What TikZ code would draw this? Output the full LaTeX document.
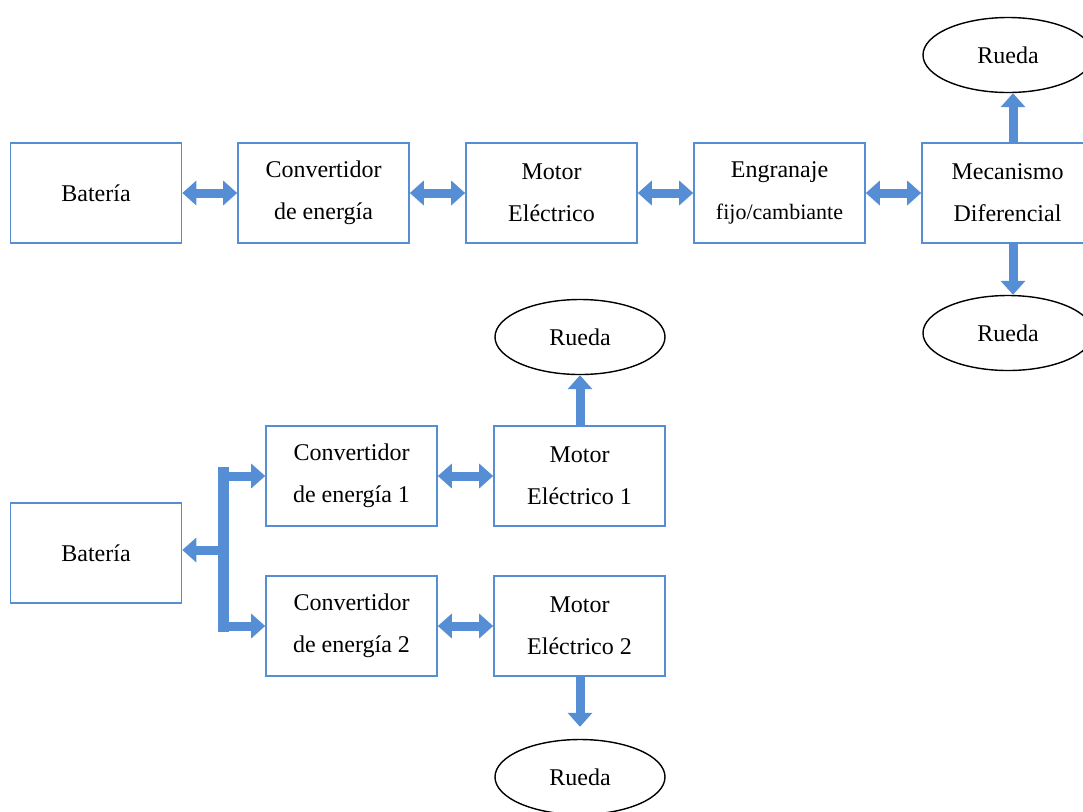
\documentclass[tikz,border=0pt]{standalone}
\usepackage{fontspec}
\setmainfont{Liberation Serif}
\usepackage{tikz}
\usetikzlibrary{arrows.meta,shapes.geometric}
\definecolor{azul}{RGB}{85,142,213}

\begin{document}
\begin{tikzpicture}[x=0.5pt,y=-0.5pt,
    bloque/.style={draw=azul, line width=0.8pt, minimum width=85.5pt, minimum height=50pt, inner sep=2pt, align=center, font=\fontsize{12}{21}\selectfont},
    rueda/.style={draw, ellipse, line width=0.7pt, minimum width=85pt, minimum height=37.5pt, font=\fontsize{12}{14}\selectfont},
    flecha/.style={draw=azul, line width=4.5pt, arrows={-Triangle[width=12pt,length=7pt]}},
    dflecha/.style={draw=azul, line width=4.5pt, arrows={Triangle[width=12pt,length=7pt]-Triangle[width=12pt,length=7pt]}}]
    \useasboundingbox (0,0) rectangle (1083,811);

    % fila de arriba
    \node[bloque] (bat1) at (96,193) {Batería};
    \node[bloque] (conv) at (323.5,193) {Convertidor\\de energía};
    \node[bloque] (mot) at (551.5,193) {Motor\\Eléctrico};
    \node[bloque] (eng) at (779.5,193) {Engranaje\\{\fontsize{11}{14}\selectfont fijo/cambiante}};
    \node[bloque] (mec) at (1007.5,193) {Mecanismo\\Diferencial};
    \node[rueda] (r1) at (1008,55) {Rueda};
    \node[rueda] (r2) at (1008,333) {Rueda};
    \coordinate (msup) at (1013,143);
    \coordinate (minf) at (1013,243);

    \draw[dflecha] (bat1) -- (conv);
    \draw[dflecha] (conv) -- (mot);
    \draw[dflecha] (mot) -- (eng);
    \draw[dflecha] (eng) -- (mec);
    \draw[flecha] (msup) -- (msup |- r1.south);
    \draw[flecha] (minf) -- (minf |- r2.north);

    % fila de abajo
    \node[bloque] (bat2) at (96,553) {Batería};
    \node[bloque] (conv1) at (351.5,476) {Convertidor\\de energía 1};
    \node[bloque] (mot1) at (579.5,476) {Motor\\Eléctrico 1};
    \node[bloque] (conv2) at (351.5,626) {Convertidor\\de energía 2};
    \node[bloque] (mot2) at (579.5,626) {Motor\\Eléctrico 2};
    \node[rueda] (r3) at (580,337) {Rueda};
    \node[rueda] (r4) at (580,777) {Rueda};

    \draw[dflecha] (conv1) -- (mot1);
    \draw[dflecha] (conv2) -- (mot2);
    \draw[flecha] (mot1.north -| r3.south) -- (r3.south);
    \draw[flecha, shorten >=6pt] (mot2.south -| r4.north) -- (r4.north);

    % reparto desde la bateria
    \coordinate (bsup) at (223.5,467);
    \coordinate (binf) at (223.5,632);
    \coordinate (bmed) at (223.5,550);
    \draw[azul, line width=5.5pt] (bsup) -- (binf);
    \draw[flecha] (bsup |- conv1.west) -- (conv1.west);
    \draw[flecha] (binf |- conv2.west) -- (conv2.west);
    \draw[flecha] (bmed) -- (bmed -| bat2.east);
\end{tikzpicture}
\end{document}
